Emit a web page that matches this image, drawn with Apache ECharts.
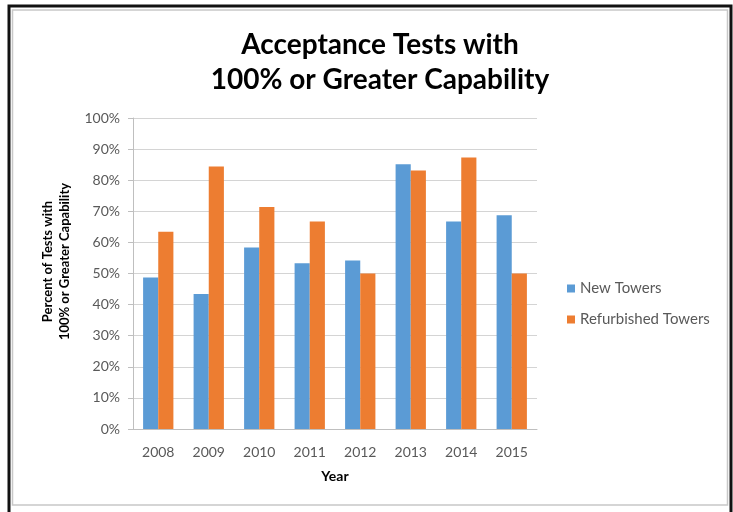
<!DOCTYPE html>
<html>
<head>
<meta charset="utf-8">
<script src="https://cdn.jsdelivr.net/npm/echarts@6/dist/echarts.min.js"></script>
<style>
  html, body { margin: 0; padding: 0; background: #fff; }
  #chart { width: 733px; height: 512px; }
</style>
</head>
<body>
<div id="chart"></div>
<script>
// years on the x axis
const years = ['2008', '2009', '2010', '2011', '2012', '2013', '2014', '2015']
// percent of tests
const newTowers = [48.7, 43.4, 58.4, 53.3, 54.2, 85.1, 66.7, 68.7]
const refurbishedTowers = [63.4, 84.4, 71.4, 66.7, 50.0, 83.1, 87.3, 50.0]

const font = 'Lato, "Open Sans", sans-serif'
const chart = echarts.init(document.getElementById('chart'))

chart.setOption({
  animation: false,
  textStyle: { fontFamily: font },
  title: {
    text: 'Acceptance Tests with\n100% or Greater Capability',
    left: 375,
    top: 22,
    textAlign: 'center',
    textStyle: { fontSize: 28, fontWeight: 'bold', color: '#000', lineHeight: 35, fontFamily: font }
  },
  legend: {
    orient: 'vertical',
    left: 562,
    top: 276,
    itemWidth: 8,
    itemHeight: 8,
    itemGap: 16,
    icon: 'rect',
    textStyle: { fontSize: 15, color: '#595959', fontFamily: font },
    data: ['New Towers', 'Refurbished Towers']
  },
  grid: { left: 133, right: 196, top: 118, bottom: 83 },
  xAxis: {
    type: 'category',
    data: years,
    name: 'Year',
    nameLocation: 'middle',
    nameGap: 40,
    nameTextStyle: { fontSize: 14, fontWeight: 'bold', color: '#000' },
    axisLine: { lineStyle: { color: '#bfbfbf' } },
    axisTick: { show: false },
    axisLabel: { fontSize: 14, color: '#595959', margin: 16 }
  },
  yAxis: {
    type: 'value',
    min: 0,
    max: 100,
    interval: 10,
    name: 'Percent of Tests with\n100% or Greater Capability',
    nameLocation: 'middle',
    nameGap: 59,
    nameTextStyle: { fontSize: 13, fontWeight: 'bold', color: '#000', lineHeight: 17, padding: [0, 0, 0, 24] },
    axisLine: { show: true, lineStyle: { color: '#bfbfbf' } },
    axisTick: { show: true, length: 5, lineStyle: { color: '#bfbfbf' } },
    axisLabel: { fontSize: 14, color: '#595959', margin: 13, formatter: '{value}%' },
    splitLine: { lineStyle: { color: '#d4d4d4' } }
  },
  graphic: [
    { type: 'rect', shape: { x: 9, y: 6, width: 722, height: 510 }, style: { fill: 'none', stroke: '#111', lineWidth: 3 } },
    { type: 'rect', shape: { x: 12.5, y: 10, width: 715, height: 495 }, style: { fill: 'none', stroke: '#c8c8c8', lineWidth: 1.5 } }
  ],
  series: [
    {
      name: 'New Towers',
      type: 'bar',
      data: newTowers,
      barGap: '0%',
      barCategoryGap: '40%',
      itemStyle: { color: '#5B9BD5' }
    },
    {
      name: 'Refurbished Towers',
      type: 'bar',
      data: refurbishedTowers,
      itemStyle: { color: '#ED7D31' }
    }
  ]
})
</script>
</body>
</html>
